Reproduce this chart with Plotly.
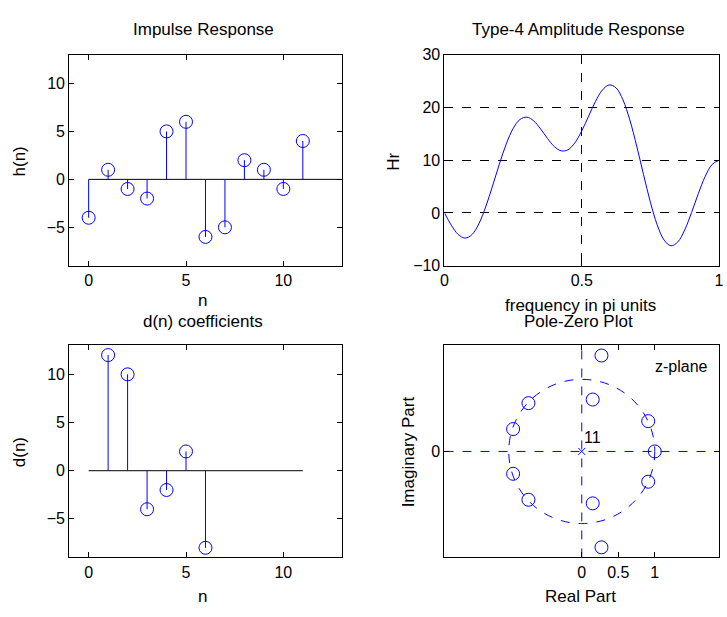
import plotly.graph_objects as go

# ---------------- data ----------------
n_h = list(range(12))
h_vals = [-4, 1, -1, -2, 5, 6, -6, -5, 2, 1, -1, 4]

n_d = [1, 2, 3, 4, 5, 6]
d_vals = [12, 10, -4, -2, 2, -8]

freq = [i * 0.025 for i in range(41)]
hr_vals = [0.00, -2.33, -4.08, -4.77, -4.12, -2.08, 1.13, 5.10, 9.27, 13.07,
           16.00, 17.72, 18.16, 17.44, 15.93, 14.13, 12.59, 11.77, 11.98, 13.30,
           15.56, 18.35, 21.13, 23.29, 24.27, 23.70, 21.44, 17.63, 12.70, 7.27,
           2.03, -2.29, -5.15, -6.23, -5.49, -3.21, 0.08, 3.72, 6.97, 9.20, 10.00]

zeros_re = [0.27, 0.27, 0.15, 0.15, 0.91, 0.91, 1.00, -0.73, -0.73, -0.94, -0.94]
zeros_im = [1.33, -1.33, 0.72, -0.72, 0.42, -0.42, 0.00, 0.67, -0.67, 0.31, -0.31]
poles_re = [0.0]
poles_im = [0.0]
pole_count = "11"

BLUE = "#0000ff"
FONT = "Liberation Sans, Arial, sans-serif"
TICK = 16
LAB = 17

def stems(xs, ys):
    sx, sy = [], []
    for x, y in zip(xs, ys):
        sx += [x, x, None]
        sy += [0, y, None]
    return sx, sy

fig = go.Figure()

# ---- Impulse response ----
sx, sy = stems(n_h, h_vals)
fig.add_trace(go.Scatter(x=[0, 13], y=[0, 0], mode="lines",
                         line=dict(color="black", width=1), xaxis="x", yaxis="y"))
fig.add_trace(go.Scatter(x=sx, y=sy, mode="lines", line=dict(color=BLUE, width=1),
                         xaxis="x", yaxis="y"))
fig.add_trace(go.Scatter(x=n_h, y=h_vals, mode="markers",
                         marker=dict(symbol="circle-open", size=13, color=BLUE,
                                     line=dict(width=1, color=BLUE)),
                         xaxis="x", yaxis="y"))

# ---- Amplitude response ----
fig.add_trace(go.Scatter(x=freq, y=hr_vals, mode="lines",
                         line=dict(color=BLUE, width=1, shape="spline"),
                         xaxis="x2", yaxis="y2"))

# ---- d(n) ----
sx, sy = stems(n_d, d_vals)
fig.add_trace(go.Scatter(x=[0, 11], y=[0, 0], mode="lines",
                         line=dict(color="black", width=1), xaxis="x3", yaxis="y3"))
fig.add_trace(go.Scatter(x=sx, y=sy, mode="lines", line=dict(color=BLUE, width=1),
                         xaxis="x3", yaxis="y3"))
fig.add_trace(go.Scatter(x=n_d, y=d_vals, mode="markers",
                         marker=dict(symbol="circle-open", size=13, color=BLUE,
                                     line=dict(width=1, color=BLUE)),
                         xaxis="x3", yaxis="y3"))

# ---- Pole-zero ----
fig.add_trace(go.Scatter(x=zeros_re, y=zeros_im, mode="markers",
                         marker=dict(symbol="circle-open", size=13, color=BLUE,
                                     line=dict(width=1, color=BLUE)),
                         xaxis="x4", yaxis="y4"))
fig.add_trace(go.Scatter(x=poles_re, y=poles_im, mode="markers",
                         marker=dict(symbol="x-thin-open", size=7, color=BLUE,
                                     line=dict(width=1, color=BLUE)),
                         xaxis="x4", yaxis="y4"))

W, H = 727, 617
def dx(a, b):
    return [a / W, b / W]
def dy(top, bot):
    return [(H - bot) / H, (H - top) / H]

axis_common = dict(showline=True, linecolor="black", linewidth=1, mirror="ticks",
                   ticks="inside", ticklen=5, tickcolor="black", showgrid=False,
                   zeroline=False, ticklabeloverflow="allow",
                   tickfont=dict(family=FONT, size=TICK, color="black"))
grid = dict(showgrid=True, gridcolor="black", griddash="dash", gridwidth=1)

L1, R1 = 66, 342
L2, R2 = 446, 724
T1, B1 = 48, 265
T2, B2 = 347, 565

fig.update_layout(
    width=W, height=H, margin=dict(l=0, r=0, t=0, b=0),
    paper_bgcolor="white", plot_bgcolor="white", showlegend=False,
    font=dict(family=FONT, size=LAB, color="black"),
    xaxis=dict(domain=dx(L1, R1), range=[-1, 13], tickvals=[0, 5, 10], anchor="y", **axis_common),
    yaxis=dict(domain=dy(T1, B1), range=[-9, 13], tickvals=[-5, 0, 5, 10], anchor="x", **axis_common),
    xaxis2=dict(domain=dx(L2, R2), range=[0, 1], tickvals=[0, 0.5, 1], ticktext=["0", "0.5", "1"],
                anchor="y2", **{**axis_common, **grid}),
    yaxis2=dict(domain=dy(T1, B1), range=[-10, 30], tickvals=[-10, 0, 10, 20, 30],
                anchor="x2", **{**axis_common, **grid}),
    xaxis3=dict(domain=dx(L1, R1), range=[-1, 13], tickvals=[0, 5, 10], anchor="y3", **axis_common),
    yaxis3=dict(domain=dy(T2, B2), range=[-9, 13], tickvals=[-5, 0, 5, 10], anchor="x3", **axis_common),
    xaxis4=dict(domain=dx(L2, R2), range=[-1.88, 1.88], tickvals=[0, 0.5, 1],
                ticktext=["0", "0.5", "1"], anchor="y4", **axis_common),
    yaxis4=dict(domain=dy(T2, B2), range=[-1.47, 1.47], tickvals=[0], anchor="x4", **axis_common),
)

# Pole-zero reference lines and unit circle
fig.add_shape(type="circle", xref="x4", yref="y4", x0=-1, y0=-1, x1=1, y1=1,
              line=dict(color=BLUE, width=1, dash="dash"), layer="below")
fig.add_shape(type="line", xref="x4", yref="y4 domain", x0=0, x1=0, y0=0, y1=1,
              line=dict(color=BLUE, width=1, dash="dash"), layer="below")
fig.add_shape(type="line", xref="x4 domain", yref="y4", x0=0, x1=1, y0=0, y1=0,
              line=dict(color=BLUE, width=1, dash="dash"), layer="below")

def ann(text, x, y, size=LAB, angle=0):
    fig.add_annotation(text=text, x=x / W, y=(H - y) / H, xref="paper", yref="paper",
                       showarrow=False, textangle=angle, xanchor="center", yanchor="middle",
                       font=dict(family=FONT, size=size, color="black"))

# titles
ann("Impulse Response", 202, 22)
ann("Type-4 Amplitude Response", 582, 22)
ann("d(n) coefficients", 201, 322)
ann("Pole-Zero Plot", 582, 322)
# axis labels
ann("n", 201, 301)
ann("frequency in pi units", 584, 306)
ann("n", 201, 605)
ann("Real Part", 584, 605)
ann("h(n)", 16, 158, LAB, -90)
ann("Hr", 395, 158, LAB, -90)
ann("d(n)", 16, 457, LAB, -90)
ann("Imaginary Part", 410, 456, LAB, -90)

# pole-zero texts
fig.add_annotation(text=pole_count, x=poles_re[0], y=poles_im[0], xref="x4", yref="y4",
                   showarrow=False, xshift=11, yshift=14,
                   font=dict(family=FONT, size=TICK, color="black"))
fig.add_annotation(text="z-plane", x=1.36, y=1.18, xref="x4", yref="y4", showarrow=False,
                   font=dict(family=FONT, size=TICK, color="black"))

fig.write_html("out.html")
